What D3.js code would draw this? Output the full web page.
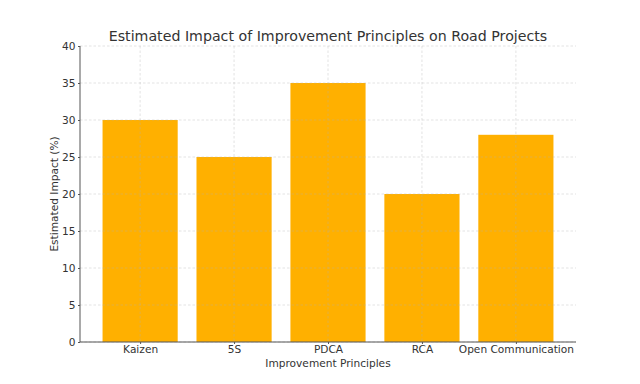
<!DOCTYPE html>
<html>
<head>
<meta charset="utf-8">
<script src="https://cdn.jsdelivr.net/npm/d3@7"></script>
<style>
  body { margin: 0; background: #fff; }
  text { font-family: "DejaVu Sans", sans-serif; }
</style>
</head>
<body>
<script>
// Data
var categories = ["Kaizen", "5S", "PDCA", "RCA", "Open Communication"];
var impact = [30, 25, 35, 20, 28];
var yTicks = [0, 5, 10, 15, 20, 25, 30, 35, 40];

var W = 640, H = 384;
var mLeft = 80, mRight = 576, mTop = 46, mBottom = 342;

var svg = d3.select("body").append("svg")
    .attr("width", W)
    .attr("height", H);

// x in category index units, like matplotlib's bar positions
var x = d3.scaleLinear().domain([-0.64, categories.length - 1 + 0.64]).range([mLeft, mRight]);
var y = d3.scaleLinear().domain([0, 40]).range([mBottom, mTop]);
var barW = 0.8;

// bars
svg.selectAll("rect.bar")
    .data(impact)
    .enter()
    .append("rect")
    .attr("class", "bar")
    .attr("x", function(d, i) { return x(i - barW / 2); })
    .attr("width", function() { return x(barW) - x(0); })
    .attr("y", function(d) { return y(d); })
    .attr("height", function(d) { return mBottom - y(d); })
    .attr("fill", "#ffb000");

// grid (drawn above the bars, faint and dashed)
var grid = svg.append("g").attr("stroke", "#b0b0b0").attr("stroke-opacity", 0.45)
    .attr("stroke-dasharray", "2.5,2").attr("stroke-width", 0.8);
yTicks.forEach(function(t) {
  grid.append("line").attr("x1", mLeft).attr("x2", mRight)
      .attr("y1", y(t)).attr("y2", y(t));
});
categories.forEach(function(c, i) {
  grid.append("line").attr("x1", x(i)).attr("x2", x(i))
      .attr("y1", mTop).attr("y2", mBottom);
});

// axes
var yAxis = d3.axisLeft(y).tickValues(yTicks).tickSize(2).tickPadding(2.5);
var gy = svg.append("g").attr("transform", "translate(" + mLeft + ",0)").call(yAxis);
var xAxis = d3.axisBottom(x).tickValues(d3.range(categories.length))
    .tickFormat(function(i) { return categories[i]; }).tickSize(2).tickPadding(1.5);
var gx = svg.append("g").attr("transform", "translate(0," + mBottom + ")").call(xAxis);

[gx, gy].forEach(function(g) {
  g.select(".domain").attr("stroke", "#555").attr("stroke-width", 1);
  g.selectAll(".tick line").attr("stroke", "#555");
  g.selectAll(".tick text").attr("fill", "#333").style("font-size", "10.6px");
});
// only show left and bottom spines; remove domain end caps
gy.select(".domain").attr("d", "M0," + mTop + "V" + mBottom);
gx.select(".domain").attr("d", "M" + mLeft + ",0H" + mRight);

// labels
svg.append("text")
    .attr("x", (mLeft + mRight) / 2).attr("y", 41)
    .attr("text-anchor", "middle")
    .attr("fill", "#333")
    .style("font-size", "14.2px")
    .text("Estimated Impact of Improvement Principles on Road Projects");

svg.append("text")
    .attr("x", (mLeft + mRight) / 2).attr("y", 367)
    .attr("text-anchor", "middle")
    .attr("fill", "#333")
    .style("font-size", "10.6px")
    .text("Improvement Principles");

svg.append("text")
    .attr("transform", "translate(58," + ((mTop + mBottom) / 2) + ") rotate(-90)")
    .attr("text-anchor", "middle")
    .attr("fill", "#333")
    .style("font-size", "10.6px")
    .text("Estimated Impact (%)");
</script>
</body>
</html>
